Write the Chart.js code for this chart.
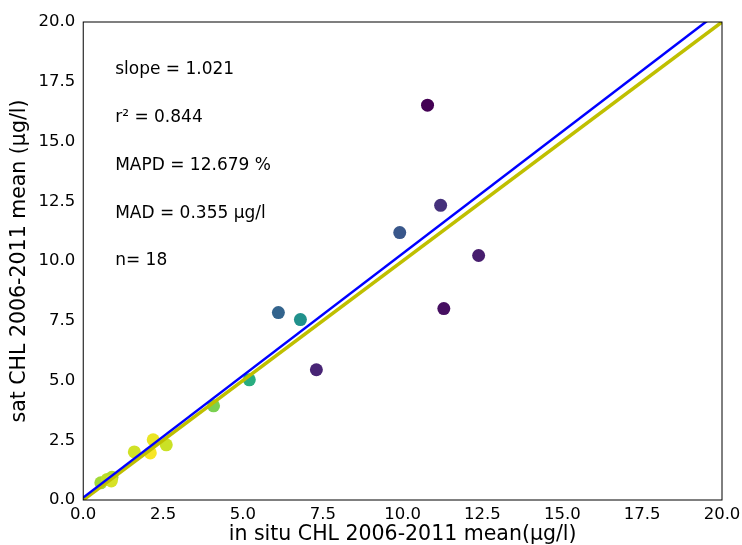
<!DOCTYPE html>
<html>
<head>
<meta charset="utf-8">
<script src="https://cdn.jsdelivr.net/npm/chart.js@4/dist/chart.umd.min.js"></script>
<style>
  html, body { margin: 0; padding: 0; background: #fff; }
  #wrap { width: 742px; height: 545px; }
</style>
</head>
<body>
<div id="wrap"><canvas id="myChart" width="742" height="545"></canvas></div>
<script>
// data
const inSitu = [10.78, 11.19, 9.91, 12.38, 11.29, 6.11, 6.80, 7.30, 5.20, 4.08, 1.60, 2.19, 2.10, 2.60, 0.55, 0.75, 0.90, 0.88];
const sat    = [16.52, 12.33, 11.19, 10.23, 8.01, 7.84, 7.55, 5.45, 5.03, 3.94, 2.01, 2.52, 1.97, 2.31, 0.72, 0.86, 0.95, 0.80];
// colour variable (0 = dark purple .. 1 = yellow)
const cValue = [0.0, 0.14, 0.27, 0.08, 0.04, 0.32, 0.50, 0.10, 0.62, 0.80, 0.93, 0.97, 0.99, 0.92, 0.86, 0.90, 0.88, 0.94];

const fitSlope = 1.021;
const fitIntercept = 0.1;
const statLines = ['slope = 1.021', 'r\u00b2 = 0.844', 'MAPD = 12.679 %', 'MAD = 0.355 \u00b5g/l', 'n= 18'];
const statY = [18, 16, 14, 12, 10];
const axisTicks = [0, 2.5, 5, 7.5, 10, 12.5, 15, 17.5, 20];

// viridis
const viridis = [
  [68, 1, 84], [72, 36, 117], [65, 68, 135], [53, 95, 141], [42, 120, 142],
  [33, 145, 140], [34, 168, 132], [68, 191, 112], [122, 209, 81], [189, 223, 38], [253, 231, 37]
];
function cmap(t) {
  const p = t * (viridis.length - 1);
  const i = Math.min(Math.floor(p), viridis.length - 2);
  const f = p - i;
  const a = viridis[i], b = viridis[i + 1];
  const c = a.map((v, k) => Math.round(v + (b[k] - v) * f));
  return 'rgb(' + c.join(',') + ')';
}

const points = inSitu.map((x, i) => ({x: x, y: sat[i]}));
const pointColors = cValue.map(cmap);

const statsText = {
  id: 'statsText',
  afterDatasetsDraw(chart) {
    const ctx = chart.ctx;
    const xs = chart.scales.x, ys = chart.scales.y;
    ctx.save();
    ctx.font = '17px "DejaVu Sans"';
    ctx.fillStyle = '#000';
    ctx.textBaseline = 'middle';
    statLines.forEach((t, i) => {
      ctx.fillText(t, xs.getPixelForValue(1.0), ys.getPixelForValue(statY[i]));
    });
    ctx.restore();
  }
};

const frame = {
  id: 'frame',
  afterDraw(chart) {
    const a = chart.chartArea, ctx = chart.ctx;
    ctx.save();
    ctx.strokeStyle = '#000';
    ctx.lineWidth = 1;
    ctx.strokeRect(a.left, a.top, a.right - a.left, a.bottom - a.top);
    ctx.restore();
  }
};

const tickFont = {family: 'DejaVu Sans', size: 16.5, lineHeight: 1};
const titleFont = {family: 'DejaVu Sans', size: 20.5, lineHeight: 1};

const config = {
  type: 'scatter',
  data: {
    datasets: [
      {
        label: 'points',
        data: points,
        backgroundColor: pointColors,
        borderColor: pointColors,
        pointRadius: 6.5,
        pointBorderWidth: 0,
        order: 2
      },
      {
        type: 'line',
        label: 'fit',
        data: [{x: 0, y: fitIntercept}, {x: 20, y: fitIntercept + fitSlope * 20}],
        borderColor: '#0000ff',
        borderWidth: 2.5,
        pointRadius: 0,
        clip: 0,
        order: 0
      },
      {
        type: 'line',
        label: '1:1',
        data: [{x: 0, y: 0}, {x: 20, y: 20}],
        borderColor: '#bfbf00',
        borderWidth: 3.5,
        pointRadius: 0,
        clip: 0,
        order: 1
      }
    ]
  },
  options: {
    responsive: false,
    animation: false,
    layout: {padding: {left: 9, right: 20, top: 22, bottom: 0}},
    plugins: {legend: {display: false}, tooltip: {enabled: false}},
    scales: {
      x: {
        type: 'linear', min: 0, max: 20,
        afterBuildTicks: s => { s.ticks = axisTicks.map(v => ({value: v})); },
        grid: {display: false, drawTicks: true, tickLength: 5, tickColor: '#000'},
        border: {display: false},
        ticks: {color: '#000', font: tickFont, padding: 1, maxRotation: 0, callback: v => v.toFixed(1)},
        title: {display: true, text: 'in situ CHL 2006-2011 mean(\u00b5g/l)', color: '#000', font: titleFont, padding: {top: 1, bottom: 0}}
      },
      y: {
        type: 'linear', min: 0, max: 20,
        afterBuildTicks: s => { s.ticks = axisTicks.map(v => ({value: v})); },
        grid: {display: false, drawTicks: true, tickLength: 5, tickColor: '#000'},
        border: {display: false},
        ticks: {color: '#000', font: tickFont, padding: 3, callback: v => v.toFixed(1)},
        title: {display: true, text: 'sat CHL 2006-2011 mean (\u00b5g/l)', color: '#000', font: titleFont, padding: {top: 0, bottom: 6}}
      }
    }
  },
  plugins: [statsText, frame]
};

const myChart = new Chart(document.getElementById('myChart'), config);
</script>
</body>
</html>
